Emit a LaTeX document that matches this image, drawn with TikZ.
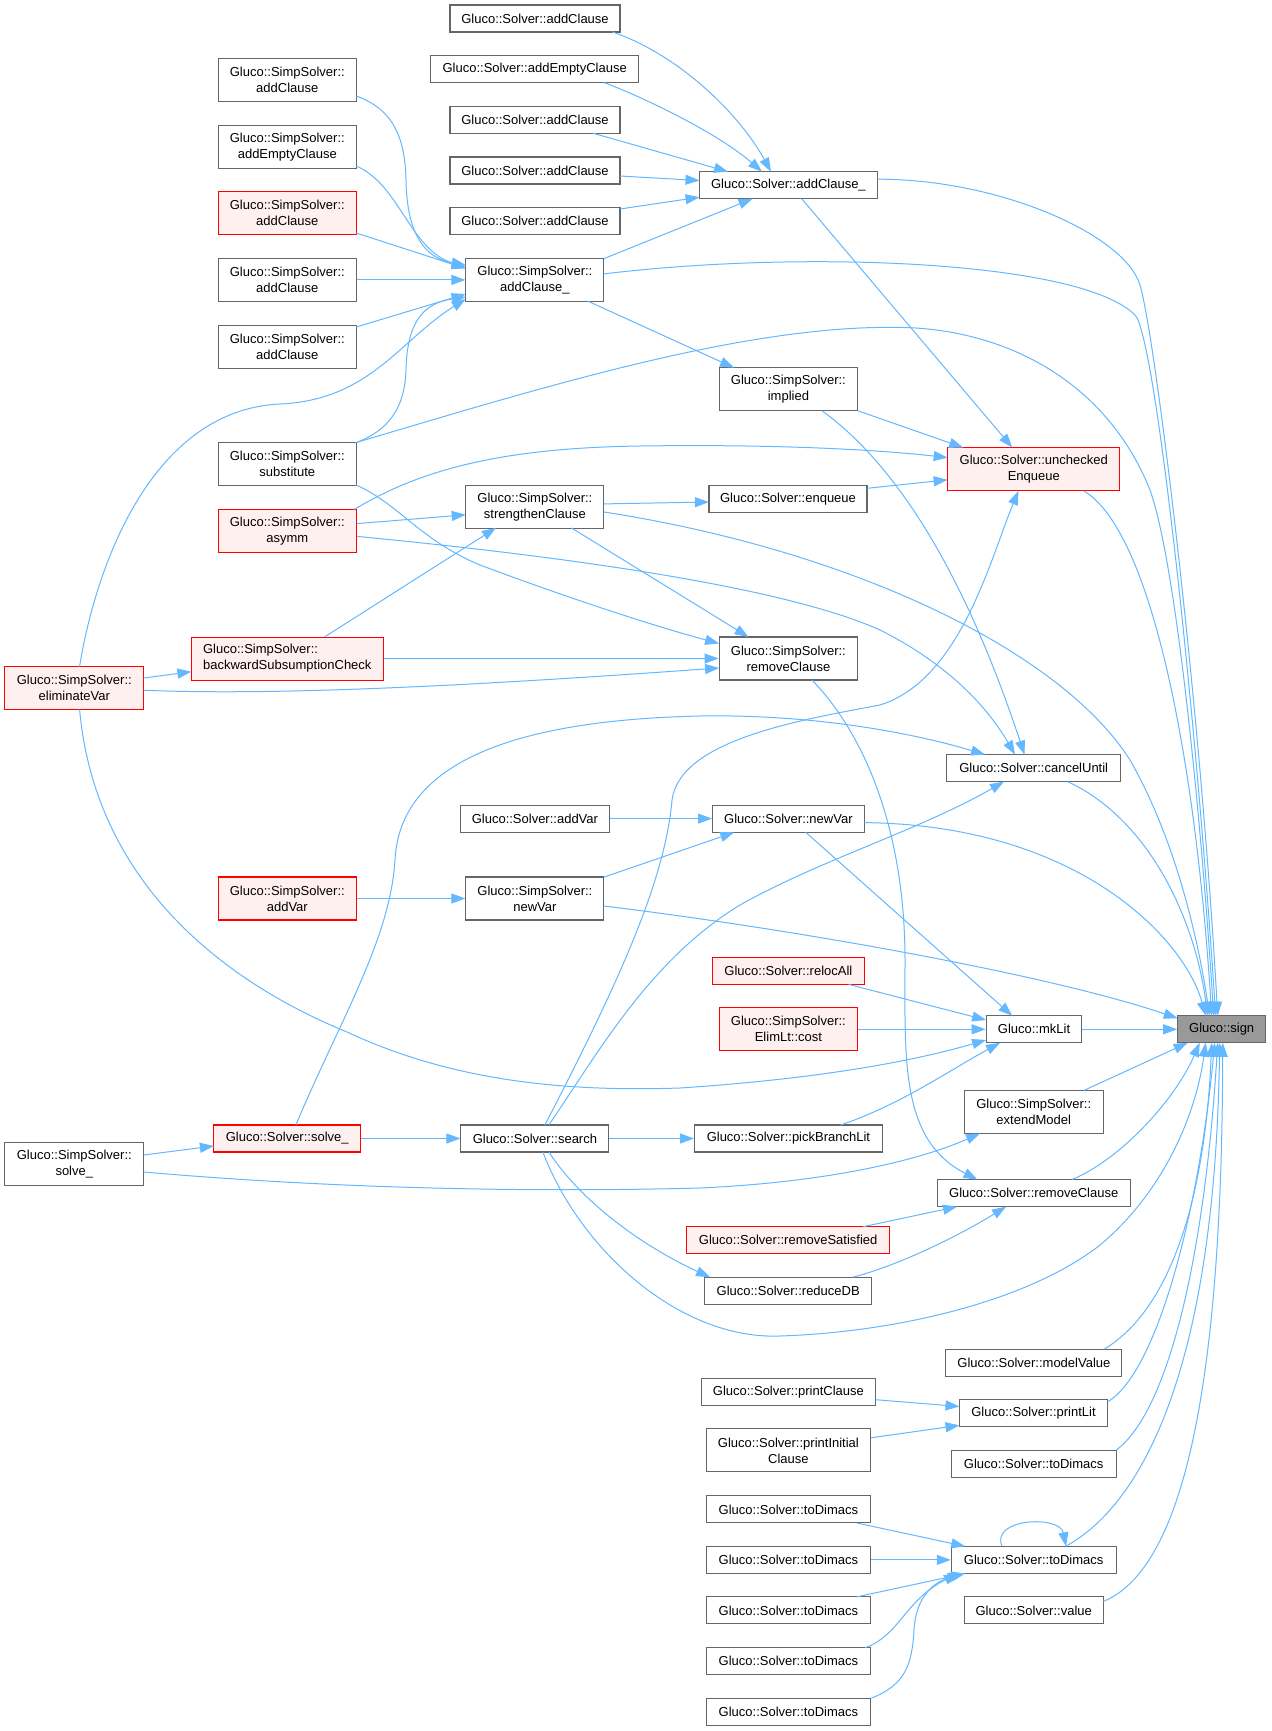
\documentclass[tikz,border=0pt]{standalone}
\usepackage{fontspec}
\setmainfont{Liberation Sans}
\usetikzlibrary{arrows.meta,calc}
\definecolor{edgeblue}{HTML}{63B8FF}
\definecolor{nodegray}{HTML}{666666}
\definecolor{redfill}{HTML}{FFF0F0}
\definecolor{redline}{HTML}{FF0000}
\definecolor{signfill}{HTML}{999999}
\begin{document}
\begin{tikzpicture}[x=0.75pt,y=-0.75pt,
  fn/.style={draw=nodegray, fill=white, line width=0.8pt, rectangle, inner sep=0pt,
    align=center, font=\fontsize{9.75}{12}\selectfont, minimum height=20.25pt},
  fn2/.style={fn, minimum height=32.25pt},
  hot/.style={draw=redline, fill=redfill},
  cur/.style={fill=signfill},
  conn/.style={draw=edgeblue, line width=0.75pt, -{Triangle[length=10.5pt,width=7.5pt]}},
]
\useasboundingbox (0,0) rectangle (1271,1731);
\fill[white] (0,0) rectangle (1271,1731);

% ---------------- nodes
\node[fn, minimum width=127.5pt] (sAC1) at (535,18.5) {Gluco::Solver::addClause};
\node[fn, minimum width=156pt] (sAEC) at (534.7,69.4) {Gluco::Solver::addEmptyClause};
\node[fn, minimum width=127.5pt] (sAC2) at (535,120) {Gluco::Solver::addClause};
\node[fn, minimum width=127.5pt] (sAC3) at (535,170.5) {Gluco::Solver::addClause};
\node[fn, minimum width=127.5pt] (sAC4) at (535,221.2) {Gluco::Solver::addClause};
\node[fn2, minimum width=103.5pt] (ssAC1) at (287.3,79.7) {Gluco::SimpSolver::\\addClause};
\node[fn2, minimum width=103.5pt] (ssAEC) at (287.3,146.7) {Gluco::SimpSolver::\\addEmptyClause};
\node[fn2, hot, minimum width=103.5pt] (ssAC2) at (287.3,213.1) {Gluco::SimpSolver::\\addClause};
\node[fn2, minimum width=103.5pt] (ssAC3) at (287.3,279.9) {Gluco::SimpSolver::\\addClause};
\node[fn2, minimum width=103.5pt] (ssAC4) at (287.3,346.7) {Gluco::SimpSolver::\\addClause};
\node[fn2, minimum width=103.5pt] (ssACu) at (534.9,279.9) {Gluco::SimpSolver::\\addClause\_};
\node[fn, minimum width=133.5pt] (sACu) at (788.4,185.2) {Gluco::Solver::addClause\_};
\node[fn2, minimum width=104pt] (implied) at (788.4,389.2) {Gluco::SimpSolver::\\implied};
\node[fn2, hot, minimum width=129pt] (unch) at (1033.8,469.3) {Gluco::Solver::unchecked\\Enqueue};
\node[fn2, minimum width=103.5pt] (subst) at (287.3,463.7) {Gluco::SimpSolver::\\substitute};
\node[fn2, hot, minimum width=103.5pt] (asymm) at (287.3,530.7) {Gluco::SimpSolver::\\asymm};
\node[fn2, minimum width=103.5pt] (strC) at (534.9,506.7) {Gluco::SimpSolver::\\strengthenClause};
\node[fn, minimum width=118.5pt] (enq) at (788,498.9) {Gluco::Solver::enqueue};
\node[fn2, hot, minimum width=144pt, align=left] (bsc) at (287.3,658.6) {Gluco::SimpSolver::\\backwardSubsumptionCheck};
\node[fn2, hot, minimum width=104.25pt] (elim) at (74.3,688.1) {Gluco::SimpSolver::\\eliminateVar};
\node[fn2, minimum width=104pt] (ssRC) at (788.4,658.5) {Gluco::SimpSolver::\\removeClause};
\node[fn, minimum width=130.5pt] (cancel) at (1033.7,768.1) {Gluco::Solver::cancelUntil};
\node[fn, minimum width=111.75pt] (sAddVar) at (534.9,818.6) {Gluco::Solver::addVar};
\node[fn, minimum width=113.75pt] (sNewVar) at (788.4,818.6) {Gluco::Solver::newVar};
\node[fn2, hot, minimum width=103.5pt] (ssAddVar) at (287.3,898.5) {Gluco::SimpSolver::\\addVar};
\node[fn2, minimum width=103.5pt] (ssNewVar) at (534.9,898.5) {Gluco::SimpSolver::\\newVar};
\node[fn, hot, minimum width=113.75pt] (reloc) at (788.4,970.9) {Gluco::Solver::relocAll};
\node[fn2, hot, minimum width=104pt] (cost) at (788.4,1029.3) {Gluco::SimpSolver::\\ElimLt::cost};
\node[fn, minimum width=71.75pt] (mkLit) at (1034,1029.3) {Gluco::mkLit};
\node[fn, cur, minimum width=66pt] (sign) at (1221.7,1029.3) {Gluco::sign};
\node[fn2, minimum width=104pt] (extend) at (1033.7,1112) {Gluco::SimpSolver::\\extendModel};
\node[fn, hot, minimum width=110pt] (solveS) at (287.2,1138.5) {Gluco::Solver::solve\_};
\node[fn, minimum width=111pt] (search) at (534.9,1138.5) {Gluco::Solver::search};
\node[fn, minimum width=140.7pt] (pick) at (788.4,1138.5) {Gluco::Solver::pickBranchLit};
\node[fn2, minimum width=104.25pt] (ssSolve) at (74.3,1163.9) {Gluco::SimpSolver::\\solve\_};
\node[fn, minimum width=144.5pt] (sRC) at (1033.7,1193.1) {Gluco::Solver::removeClause};
\node[fn, hot, minimum width=152pt] (remSat) at (788.2,1239.9) {Gluco::Solver::removeSatisfied};
\node[fn, minimum width=125pt] (reduceDB) at (788.2,1290.6) {Gluco::Solver::reduceDB};
\node[fn, minimum width=132pt] (modelValue) at (1033.9,1362.8) {Gluco::Solver::modelValue};
\node[fn, minimum width=131pt] (printClause) at (788.4,1391.8) {Gluco::Solver::printClause};
\node[fn, minimum width=111pt] (printLit) at (1033.5,1413.3) {Gluco::Solver::printLit};
\node[fn2, minimum width=123.5pt] (printInit) at (788.4,1450.4) {Gluco::Solver::printInitial\\Clause};
\node[fn, minimum width=123.5pt] (toDimR) at (1033.7,1463.8) {Gluco::Solver::toDimacs};
\node[fn, minimum width=123.5pt] (toD1) at (788.4,1509.4) {Gluco::Solver::toDimacs};
\node[fn, minimum width=123.5pt] (toDm) at (1033.7,1559.9) {Gluco::Solver::toDimacs};
\node[fn, minimum width=123.5pt] (toD2) at (788.4,1559.9) {Gluco::Solver::toDimacs};
\node[fn, minimum width=104.5pt] (value) at (1033.7,1610.4) {Gluco::Solver::value};
\node[fn, minimum width=123.5pt] (toD3) at (788.4,1610.4) {Gluco::Solver::toDimacs};
\node[fn, minimum width=123.5pt] (toD4) at (788.4,1661.3) {Gluco::Solver::toDimacs};
\node[fn, minimum width=123.5pt] (toD5) at (788.4,1711.8) {Gluco::Solver::toDimacs};

% ---------------- edges into Solver::addClause_
\draw[conn] ($(sAC1)+(77,13.3)$) .. controls (680,55) and (740,115) .. ($(sACu)+(-17.4,-13.5)$);
\draw[conn] ($(sAEC)+(69.3,13.1)$) .. controls (650,100) and (720,135) .. ($(sACu)+(-26.4,-13.5)$);
\draw[conn] ($(sAC2)+(58,13.2)$) -- ($(sACu)+(-60.4,-13.5)$);
\draw[conn] ($(sAC3)+(85,5.5)$) -- ($(sACu)+(-88.9,-4.7)$);
\draw[conn] ($(sAC4)+(85,-12.2)$) -- ($(sACu)+(-88.9,12)$);
\draw[conn] ($(ssACu)+(69.1,-21.3)$) -- ($(sACu)+(-35.8,13.5)$);

% ---------------- edges into SimpSolver::addClause_
\draw[conn] ($(ssAC1)+(69,16.3)$) .. controls (395,110) and (405,140) .. (406,180) .. controls (407,235) and (425,258) .. ($(ssACu)+(-69.2,-14.9)$);
\draw[conn] ($(ssAEC)+(69,19.3)$) .. controls (400,185) and (410,250) .. ($(ssACu)+(-69.2,-12.9)$);
\draw[conn] ($(ssAC2)+(69,19.9)$) -- ($(ssACu)+(-69.2,-11.4)$);
\draw[conn] (ssAC3.east) -- (ssACu.west);
\draw[conn] ($(ssAC4)+(69,-19.7)$) -- ($(ssACu)+(-69.2,14.1)$);
\draw[conn] ($(subst)+(69,-21.2)$) .. controls (395,428) and (405,400) .. (406,370) .. controls (407,320) and (425,303) .. ($(ssACu)+(-69.2,17.1)$);
\draw[conn] ($(elim)+(5.3,-21.5)$) .. controls (95,570) and (150,410) .. (280,404) .. controls (370,400) and (400,340) .. ($(ssACu)+(-69.2,19.1)$);

% ---------------- middle part
\draw[conn] ($(ssACu)+(52.9,21.2)$) -- ($(implied)+(-54.4,-21.5)$);
\draw[conn] ($(sACu)+(13.3,13.5)$) -- ($(unch)+(-21.5,-21.7)$);
\draw[conn] ($(implied)+(69.3,21.5)$) -- ($(unch)+(-70.6,-21.7)$);
\draw[conn] ($(implied)+(33.6,21.5)$) .. controls (890,460) and (960,560) .. ($(cancel)+(-9.2,-13.5)$);
\draw[conn] ($(asymm)+(67,-21.3)$) .. controls (420,470) and (500,448) .. (640,446) .. controls (780,444) and (880,450) .. ($(unch)+(-86.1,-11.7)$);
\draw[conn] ($(enq)+(79.1,-10.6)$) -- ($(unch)+(-86.1,10.5)$);
\draw[conn] ($(search)+(10,-13.6)$) .. controls (620,980) and (665,880) .. (672,800) .. controls (680,740) and (800,720) .. (880,705) .. controls (960,680) and (990,560) .. ($(unch)+(-15.4,21.6)$);
\draw[conn] ($(search)+(14,-13.6)$) .. controls (600,1050) and (650,960) .. (740,905) .. controls (820,860) and (920,830) .. ($(cancel)+(-29.7,13.5)$);
\draw[conn] ($(solveS)+(8.7,-13.6)$) .. controls (340,1020) and (390,940) .. (395,860) .. controls (400,760) and (520,720) .. (700,716) .. controls (820,714) and (920,735) .. ($(cancel)+(-48.7,-13.5)$);
\draw[conn] ($(asymm)+(69.8,5.7)$) .. controls (550,555) and (780,585) .. (880,630) .. controls (960,670) and (995,720) .. ($(cancel)+(-18.7,-13.5)$);
\draw[conn] ($(asymm)+(69.8,-7.1)$) -- ($(strC)+(-69.2,8.1)$);
\draw[conn] ($(strC)+(69.1,-2.8)$) -- ($(enq)+(-79.1,3.1)$);
\draw[conn] ($(bsc)+(37.2,-21.6)$) -- ($(strC)+(-39,21.2)$);
\draw[conn] ($(strC)+(36.5,21.2)$) -- ($(ssRC)+(-39.8,-21.5)$);
\draw[conn] ($(subst)+(69,21.3)$) .. controls (400,505) and (420,540) .. (480,565) .. controls (560,595) and (650,625) .. ($(ssRC)+(-69.3,-15)$);
\draw[conn] (bsc.east) -- (ssRC.west);
\draw[conn] ($(elim)+(69.4,2.1)$) .. controls (300,697) and (550,680) .. ($(ssRC)+(-69.3,9.5)$);
\draw[conn] ($(elim)+(69.4,-10.1)$) -- ($(bsc)+(-95.9,13.1)$);
\draw[conn] ($(elim)+(5.3,21.4)$) .. controls (95,880) and (220,980) .. (347,1032) .. controls (450,1080) and (560,1092) .. (680,1088) .. controls (800,1080) and (900,1065) .. ($(mkLit)+(-47.9,10.7)$);
\draw[conn] (ssAddVar.east) -- (ssNewVar.west);
\draw[conn] (sAddVar.east) -- (sNewVar.west);
\draw[conn] ($(ssNewVar)+(69.1,-21.4)$) -- ($(sNewVar)+(-54.1,13.7)$);
\draw[conn] ($(sNewVar)+(17.4,13.7)$) -- ($(mkLit)+(-21.7,-13.5)$);
\draw[conn] ($(reloc)+(60.3,13.5)$) -- ($(mkLit)+(-47.9,-9.3)$);
\draw[conn] (cost.east) -- (mkLit.west);
\draw[conn] ($(pick)+(52.1,-13.5)$) .. controls (900,1105) and (950,1070) .. ($(mkLit)+(-34,13.5)$);
\draw[conn] ($(ssSolve)+(69.4,-8.9)$) -- ($(solveS)+(-73.3,7.5)$);
\draw[conn] ($(ssSolve)+(69.4,8.1)$) .. controls (350,1190) and (550,1192) .. (700,1188) .. controls (830,1182) and (920,1160) .. ($(extend)+(-53.7,21.4)$);
\draw[conn] (solveS.east) -- (search.west);
\draw[conn] (search.east) -- (pick.west);
\draw[conn] ($(search)+(14,13.5)$) .. controls (580,1200) and (640,1245) .. ($(reduceDB)+(-78.2,-13.4)$);
\draw[conn] ($(ssRC)+(23.5,21.4)$) .. controls (870,740) and (905,840) .. (905,960) .. controls (905,1060) and (900,1140) .. ($(sRC)+(-56.2,-13.5)$);
\draw[conn] ($(remSat)+(74.8,-13.2)$) -- ($(sRC)+(-76.7,13.6)$);
\draw[conn] ($(reduceDB)+(64.6,-13.4)$) .. controls (900,1265) and (960,1235) .. ($(sRC)+(-27.7,13.6)$);
\draw[conn] ($(printClause)+(87.3,7.9)$) -- ($(printLit)+(-74,-6.8)$);
\draw[conn] ($(printInit)+(82.4,-12.6)$) -- ($(printLit)+(-74,12)$);
\draw[conn] ($(toD1)+(68.5,13.6)$) -- ($(toDm)+(-68.5,-13.6)$);
\draw[conn] (toD2.east) -- (toDm.west);
\draw[conn] ($(toD3)+(68.5,-13.6)$) -- ($(toDm)+(-68.5,13.6)$);
\draw[conn] ($(toD4)+(76.7,-13.6)$) .. controls (900,1635) and (905,1600) .. ($(toDm)+(-75.7,13.6)$);
\draw[conn] ($(toD5)+(82.8,-13.6)$) .. controls (905,1685) and (912,1665) .. (914,1630) .. controls (916,1595) and (935,1582) .. ($(toDm)+(-71.7,13.6)$);
\draw[conn] ($(toDm)+(-31.7,-13.6)$) .. controls (990,1518) and (1060,1515) .. ($(toDm)+(32.3,-13.6)$);

% ---------------- edges into Gluco::sign
\draw[conn] ($(sACu)+(88.9,-6)$) .. controls (1000,179) and (1125,235) .. (1140,285) .. controls (1155,335) and (1200,700) .. ($(sign)+(-4,-13.5)$);
\draw[conn] ($(ssACu)+(69.1,-6)$) .. controls (800,250) and (1080,260) .. (1135,315) .. controls (1155,335) and (1195,700) .. ($(sign)+(-6,-13.5)$);
\draw[conn] ($(subst)+(69,-21.2)$) .. controls (550,385) and (760,320) .. (916,328) .. controls (1020,335) and (1110,390) .. (1150,490) .. controls (1175,560) and (1200,800) .. ($(sign)+(-8,-13.5)$);
\draw[conn] ($(unch)+(50,21.6)$) .. controls (1150,530) and (1195,750) .. ($(sign)+(-10,-13.5)$);
\draw[conn] ($(strC)+(69.1,5.3)$) .. controls (850,550) and (1060,650) .. (1130,760) .. controls (1170,830) and (1195,920) .. ($(sign)+(-12,-13.5)$);
\draw[conn] ($(cancel)+(34,13.5)$) .. controls (1150,820) and (1195,920) .. ($(sign)+(-14,-13.5)$);
\draw[conn] ($(sNewVar)+(75.9,4)$) .. controls (1080,825) and (1185,940) .. ($(sign)+(-16,-13.5)$);
\draw[conn] ($(ssNewVar)+(69.1,7.5)$) .. controls (800,930) and (1050,975) .. ($(sign)+(-44,-11)$);
\draw[conn] (mkLit.east) -- (sign.west);
\draw[conn] ($(extend)+(50,-21.5)$) -- ($(sign)+(-34,13.5)$);
\draw[conn] ($(sRC)+(38,-13.5)$) .. controls (1120,1160) and (1175,1100) .. ($(sign)+(-22,13.5)$);
\draw[conn] ($(search)+(8,13.5)$) .. controls (580,1250) and (680,1340) .. (780,1336) .. controls (900,1332) and (1030,1300) .. (1100,1245) .. controls (1160,1195) and (1195,1120) .. ($(sign)+(-16,13.5)$);
\draw[conn] ($(modelValue)+(70,-13.5)$) .. controls (1170,1310) and (1205,1200) .. ($(sign)+(-10,13.5)$);
\draw[conn] ($(printLit)+(74,-11.3)$) .. controls (1160,1370) and (1200,1200) .. ($(sign)+(-7,13.5)$);
\draw[conn] ($(toDimR)+(82.4,-13.6)$) .. controls (1170,1410) and (1205,1250) .. ($(sign)+(-4,13.5)$);
\draw[conn] ($(toDm)+(32,-13.6)$) .. controls (1150,1500) and (1215,1350) .. ($(sign)+(-2,13.5)$);
\draw[conn] ($(value)+(69.7,-9)$) .. controls (1180,1570) and (1222,1400) .. ($(sign)+(1,13.5)$);
\end{tikzpicture}
\end{document}
